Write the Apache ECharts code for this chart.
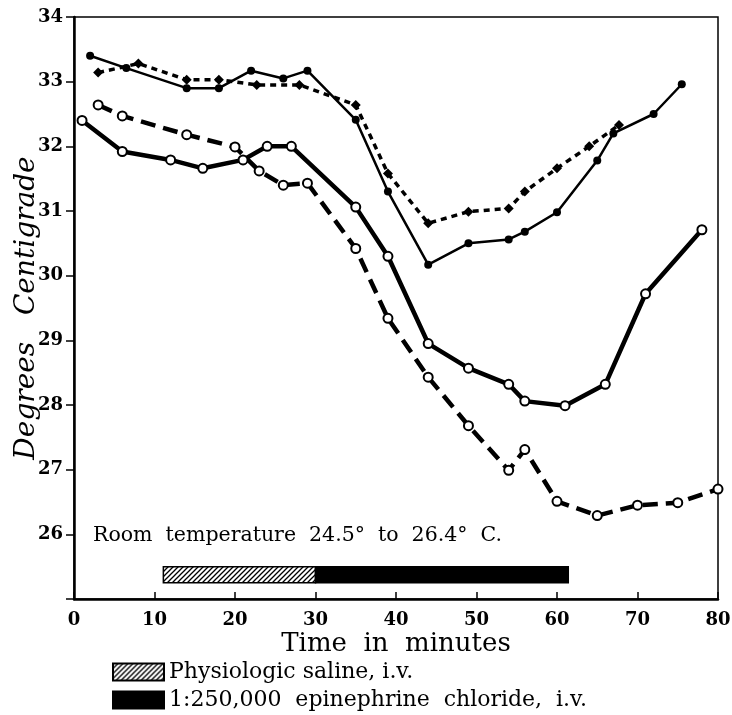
<!DOCTYPE html>
<html>
<head>
<meta charset="utf-8">
<script src="https://cdn.jsdelivr.net/npm/echarts@6/dist/echarts.min.js"></script>
<style>
  html, body { margin: 0; padding: 0; background: #fff; }
  #chart { width: 732px; height: 715px; }
</style>
</head>
<body>
<div id="chart"></div>
<script>
// upper solid line, filled dots
const solidFilled = [
  [2, 33.40], [6.5, 33.21], [14, 32.90], [18, 32.90], [22, 33.17], [26, 33.05],
  [29, 33.17], [35, 32.41], [39, 31.30], [44, 30.17], [49, 30.50], [54, 30.56],
  [56, 30.68], [60, 30.98], [65, 31.78], [67, 32.20], [72, 32.50], [75.5, 32.96]
]
// upper dotted line, filled dots
const dottedFilled = [
  [3, 33.14], [8, 33.28], [14, 33.03], [18, 33.03], [22.7, 32.95], [28, 32.95],
  [35, 32.64], [39, 31.58], [44, 30.81], [49, 30.99], [54, 31.04], [56, 31.30],
  [60, 31.66], [64, 32.00], [67.7, 32.33]
]
// lower heavy solid line, open circles
const solidOpen = [
  [1, 32.40], [6, 31.92], [12, 31.79], [16, 31.66], [21, 31.79], [24, 32.00],
  [27, 32.00], [35, 31.06], [39, 30.30], [44, 28.95], [49, 28.57], [54, 28.32],
  [56, 28.06], [61, 27.99], [66, 28.32], [71, 29.72], [78, 30.71]
]
// lower heavy dashed line, open circles
const dashedOpen = [
  [3, 32.64], [6, 32.47], [14, 32.18], [20, 31.99], [23, 31.62], [26, 31.40],
  [29, 31.43], [35, 30.42], [39, 29.34], [44, 28.43], [49, 27.68], [54, 26.99],
  [56, 27.31], [60, 26.51], [65, 26.29], [70, 26.45], [75, 26.49], [80, 26.70]
]
// infusion periods: [start, end, bottom, top]
const salinePeriod = [[11.1, 30, 25.25, 25.5]]
const epinephrinePeriod = [[30, 61.4, 25.25, 25.5]]

const xTicks = [0, 10, 20, 30, 40, 50, 60, 70, 80]
const yTicks = [26, 27, 28, 29, 30, 31, 32, 33, 34]

const salineName = 'Physiologic saline, i.v.'
const epiName = '1:250,000  epinephrine  chloride,  i.v.'

const FONT = 'DejaVu Serif'

// diagonal hatch pattern
function hatch() {
  const c = document.createElement('canvas')
  c.width = 5
  c.height = 5
  const ctx = c.getContext('2d')
  ctx.fillStyle = '#fff'
  ctx.fillRect(0, 0, 5, 5)
  ctx.strokeStyle = '#000'
  ctx.lineWidth = 1.3
  ctx.beginPath()
  ctx.moveTo(0, 5)
  ctx.lineTo(5, 0)
  ctx.moveTo(-1, 1)
  ctx.lineTo(1, -1)
  ctx.moveTo(4, 6)
  ctx.lineTo(6, 4)
  ctx.stroke()
  return { image: c, repeat: 'repeat' }
}
const hatchFill = hatch()

function periodRender(params, api) {
  const p0 = api.coord([api.value(0), api.value(3)])
  const p1 = api.coord([api.value(1), api.value(2)])
  return {
    type: 'rect',
    shape: { x: p0[0], y: p0[1], width: p1[0] - p0[0], height: p1[1] - p0[1] },
    style: api.style()
  }
}

const myChart = echarts.init(document.getElementById('chart'))

const legendBase = {
  left: 112, icon: 'rect', itemWidth: 51, itemHeight: 17, padding: 0, itemGap: 8,
  selectedMode: false,
  textStyle: { fontFamily: FONT, fontSize: 22, color: '#000' }
}

const option = {
  animation: false,
  backgroundColor: '#fff',
  textStyle: { fontFamily: FONT, color: '#000' },
  grid: {
    left: 74, right: 14, top: 17, bottom: 116,
    outerBoundsMode: 'none', containLabel: false,
    show: true, borderColor: '#000', borderWidth: 1.5
  },
  legend: [
    { ...legendBase, top: 661, data: [salineName] },
    { ...legendBase, top: 689, data: [epiName] }
  ],
  graphic: [{
    type: 'text', left: 93, top: 525,
    style: { text: 'Room  temperature  24.5°  to  26.4°  C.', font: '20.5px "DejaVu Serif"', fill: '#000' }
  }],
  xAxis: {
    type: 'value', min: 0, max: 80, interval: 10,
    name: 'Time  in  minutes', nameLocation: 'middle', nameGap: 32,
    nameMoveOverlap: false,
    nameTextStyle: { fontFamily: FONT, fontSize: 26, color: '#000' },
    axisLine: { lineStyle: { color: '#000', width: 2.5 } },
    axisTick: { inside: true, length: 7, lineStyle: { color: '#000', width: 1.5 } },
    axisLabel: {
      color: '#000', fontFamily: FONT, fontSize: 18, fontWeight: 'bold', margin: 12,
      formatter: v => xTicks.includes(v) ? String(v) : ''
    },
    splitLine: { show: false }
  },
  yAxis: {
    type: 'value', min: 25, max: 34, interval: 1,
    name: 'Degrees   Centigrade', nameLocation: 'middle', nameGap: 33,
    nameMoveOverlap: false,
    nameTextStyle: { fontFamily: FONT, fontSize: 28, fontStyle: 'italic', color: '#000' },
    axisLine: { show: true, lineStyle: { color: '#000', width: 2.5 } },
    axisTick: { inside: false, length: 8, lineStyle: { color: '#000', width: 1.5 } },
    axisLabel: {
      color: '#000', fontFamily: FONT, fontSize: 18, fontWeight: 'bold', margin: 11,
      formatter: v => yTicks.includes(v) ? String(v) : ''
    },
    splitLine: { show: false }
  },
  series: [
    {
      name: salineName, type: 'custom', renderItem: periodRender,
      itemStyle: { color: hatchFill, borderColor: '#000', borderWidth: 1.5 },
      encode: { x: [0, 1], y: [2, 3] }, data: salinePeriod
    },
    {
      name: epiName, type: 'custom', renderItem: periodRender,
      itemStyle: { color: '#000', borderColor: '#000', borderWidth: 1.5 },
      encode: { x: [0, 1], y: [2, 3] }, data: epinephrinePeriod
    },
    {
      type: 'line', data: solidOpen, symbol: 'circle', symbolSize: 9,
      lineStyle: { color: '#000', width: 4.5 },
      itemStyle: { color: '#fff', borderColor: '#000', borderWidth: 2 }, z: 3
    },
    {
      type: 'line', data: dashedOpen, symbol: 'circle', symbolSize: 9,
      lineStyle: { color: '#000', width: 4.5, type: [15, 8] },
      itemStyle: { color: '#fff', borderColor: '#000', borderWidth: 2 }, z: 3
    },
    {
      type: 'line', data: solidFilled, symbol: 'circle', symbolSize: 8,
      lineStyle: { color: '#000', width: 2.5 },
      itemStyle: { color: '#000' }, z: 4
    },
    {
      type: 'line', data: dottedFilled, symbol: 'diamond', symbolSize: 10,
      lineStyle: { color: '#000', width: 3.5, type: [6, 5] },
      itemStyle: { color: '#000' }, z: 4
    }
  ]
}

myChart.setOption(option)
window.addEventListener('resize', () => myChart.resize())
</script>
</body>
</html>
